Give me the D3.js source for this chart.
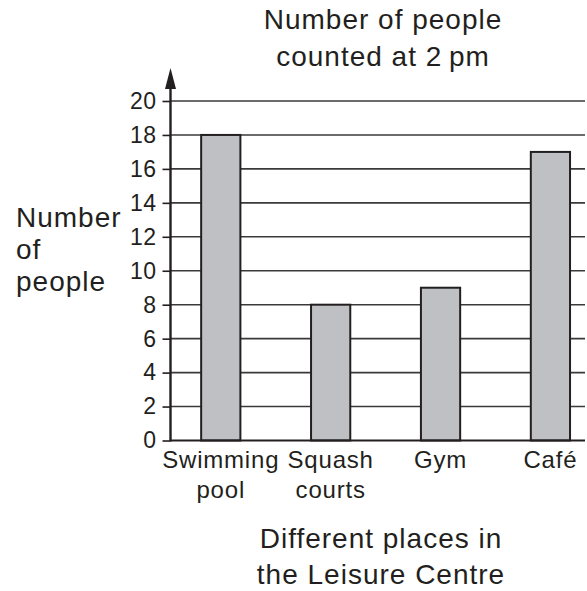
<!DOCTYPE html>
<html>
<head>
<meta charset="utf-8">
<script src="https://cdn.jsdelivr.net/npm/d3@7"></script>
<style>
  body { margin: 0; background: #fff; }
  text { font-family: "Liberation Sans", Arial, sans-serif; fill: #231f20; }
</style>
</head>
<body>
<div id="chart"></div>
<script>
// Data.
var places = ["Swimming pool", "Squash courts", "Gym", "Café"];
var placeLines = [["Swimming", "pool"], ["Squash", "courts"], ["Gym"], ["Café"]];
var counts = [18, 8, 9, 17];
var yTicks = [0, 2, 4, 6, 8, 10, 12, 14, 16, 18, 20];
var titleLines = ["Number of people", "counted at 2\u2009pm"];
var yLabelLines = ["Number", "of", "people"];
var xLabelLines = ["Different places in", "the Leisure Centre"];

var width = 587, height = 591;
var axisX = 170.5, gridEnd = 585;

var svg = d3.select("#chart").append("svg")
    .attr("width", width)
    .attr("height", height);

// Scales
var y = d3.scaleLinear().domain([0, 20]).range([440.5, 101]);
var x = d3.scaleBand()
    .domain(places)
    .range([axisX, 600.7])
    .paddingInner(0.643)
    .paddingOuter(0.279);

// Gridlines
svg.append("g").selectAll("line")
    .data(yTicks.filter(function(d) { return d > 0; }))
  .enter().append("line")
    .attr("x1", axisX)
    .attr("x2", gridEnd)
    .attr("y1", function(d) { return y(d); })
    .attr("y2", function(d) { return y(d); })
    .attr("stroke", "#3a3a3a")
    .attr("stroke-width", 1.6);

// Y axis with ticks on the left
var yAxis = svg.append("g")
    .attr("transform", "translate(" + axisX + ",0)")
    .call(d3.axisLeft(y).tickValues(yTicks).tickSize(8).tickPadding(6));
yAxis.select(".domain").remove();
yAxis.selectAll(".tick line").attr("stroke", "#231f20").attr("stroke-width", 1.6);
yAxis.selectAll(".tick text")
    .attr("font-size", 23)
    .attr("letter-spacing", 0.4)
    .attr("font-family", "Liberation Sans, Arial, sans-serif")
    .attr("fill", "#231f20");

// Bars
svg.append("g").selectAll("rect")
    .data(counts)
  .enter().append("rect")
    .attr("x", function(d, i) { return x(places[i]); })
    .attr("y", function(d) { return y(d); })
    .attr("width", x.bandwidth())
    .attr("height", function(d) { return y(0) - y(d); })
    .attr("fill", "#bfc0c3")
    .attr("stroke", "#231f20")
    .attr("stroke-width", 2);

// X axis baseline
svg.append("line")
    .attr("x1", axisX)
    .attr("x2", gridEnd)
    .attr("y1", y(0))
    .attr("y2", y(0))
    .attr("stroke", "#231f20")
    .attr("stroke-width", 2.2);

// Vertical axis line with arrow head
svg.append("line")
    .attr("x1", axisX)
    .attr("x2", axisX)
    .attr("y1", y(0) + 1)
    .attr("y2", 84)
    .attr("stroke", "#231f20")
    .attr("stroke-width", 2.4);
svg.append("path")
    .attr("d", "M" + axisX + ",68 L" + (axisX - 5.5) + ",89 L" + (axisX + 5.5) + ",89 Z")
    .attr("fill", "#231f20");

// Category labels
var cat = svg.append("g").selectAll("text")
    .data(placeLines)
  .enter().append("text")
    .attr("text-anchor", "middle")
    .attr("font-size", 24)
    .attr("letter-spacing", 0.8)
    .attr("x", function(d, i) { return x(places[i]) + x.bandwidth() / 2; })
    .attr("y", 468);
cat.selectAll("tspan")
    .data(function(d) { return d; })
  .enter().append("tspan")
    .attr("x", function() { return d3.select(this.parentNode).attr("x"); })
    .attr("dy", function(d, i) { return i === 0 ? 0 : 30; })
    .text(function(d) { return d; });

// Title
svg.append("g").selectAll("text")
    .data(titleLines)
  .enter().append("text")
    .attr("text-anchor", "middle")
    .attr("font-size", 28)
    .attr("letter-spacing", 1)
    .attr("x", 383)
    .attr("y", function(d, i) { return 29 + i * 37; })
    .text(function(d) { return d; });

// Y label
svg.append("g").selectAll("text")
    .data(yLabelLines)
  .enter().append("text")
    .attr("font-size", 28)
    .attr("letter-spacing", 1)
    .attr("x", 16)
    .attr("y", function(d, i) { return 227 + i * 32; })
    .text(function(d) { return d; });

// X label
svg.append("g").selectAll("text")
    .data(xLabelLines)
  .enter().append("text")
    .attr("text-anchor", "middle")
    .attr("font-size", 28)
    .attr("letter-spacing", 1)
    .attr("x", 381)
    .attr("y", function(d, i) { return 548 + i * 36; })
    .text(function(d) { return d; });
</script>
</body>
</html>
